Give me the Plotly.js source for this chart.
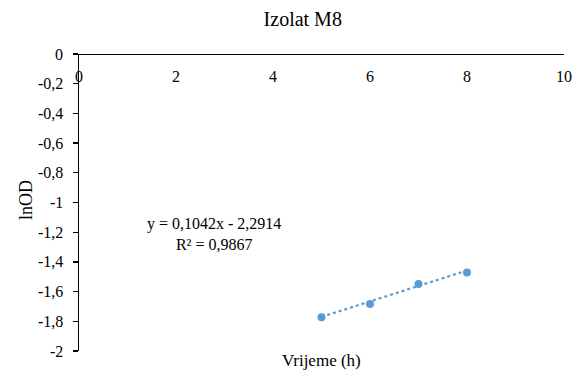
<!DOCTYPE html>
<html>
<head>
<meta charset="utf-8">
<script src="https://cdn.plot.ly/plotly-3.0.1.min.js"></script>
<style>html,body{margin:0;padding:0;background:#fff;}#chart{width:580px;height:376px;}</style>
</head>
<body>
<div id="chart"></div>
<script>
const timeH = [5, 6, 7, 8];
const lnOD = [-1.772, -1.684, -1.548, -1.471];
const trendSlope = 0.1042;
const trendIntercept = -2.2914;
const yTickVals = [0, -0.2, -0.4, -0.6, -0.8, -1, -1.2, -1.4, -1.6, -1.8, -2];
const yTickText = ["0", "-0,2", "-0,4", "-0,6", "-0,8", "-1", "-1,2", "-1,4", "-1,6", "-1,8", "-2"];
const xTickVals = [0, 2, 4, 6, 8, 10];
const xTickText = ["0", "2", "4", "6", "8", "10"];

const trendY = timeH.map(v => trendSlope * v + trendIntercept);
const serif = "Liberation Serif";
const blue = "#5B9BD5";
const tickFont = {family: serif, size: 16, color: "#000"};

const traces = [
  {x: timeH, y: trendY, type: "scatter", mode: "lines", line: {color: blue, width: 2.2, dash: "dot"}, hoverinfo: "skip", showlegend: false},
  {x: timeH, y: lnOD, type: "scatter", mode: "markers", marker: {color: blue, size: 8}, showlegend: false}
];

const yTickLabels = yTickVals.map((v, i) => ({
  xref: "paper", x: 0, yref: "y", y: v, text: yTickText[i], showarrow: false,
  xanchor: "right", yanchor: "middle", xshift: -14, font: tickFont
}));
const xTickLabels = xTickVals.map((v, i) => ({
  xref: "x", x: v, yref: "paper", y: 1, text: xTickText[i], showarrow: false,
  xanchor: "center", yanchor: "middle", yshift: -22, font: tickFont
}));

const layout = {
  width: 580, height: 376,
  margin: {l: 79, r: 16, t: 54, b: 25},
  paper_bgcolor: "#fff", plot_bgcolor: "#fff",
  separators: ", ",
  font: {family: serif, color: "#000", size: 16},
  title: {text: "Izolat M8", font: {family: serif, size: 20, color: "#000"}, x: 0.522, xanchor: "center", y: 0.95, yanchor: "middle", yref: "container"},
  showlegend: false,
  xaxis: {
    anchor: "free", position: 1, side: "bottom", range: [0, 10],
    tickvals: xTickVals, showticklabels: false, ticks: "",
    showline: true, linecolor: "#000", linewidth: 1.3, showgrid: false, zeroline: false
  },
  yaxis: {
    range: [-2, 0], tickvals: yTickVals, showticklabels: false,
    ticks: "outside", ticklen: 5, tickcolor: "#000", tickwidth: 1.3,
    showline: true, linecolor: "#000", linewidth: 1.3, showgrid: false, zeroline: false
  },
  annotations: [
    {
      x: 2.78, y: -1.212, xref: "x", yref: "y", showarrow: false,
      text: "y = 0,1042x - 2,2914<br>R² = 0,9867", align: "center",
      font: {family: serif, size: 16, color: "#000"}
    },
    {
      x: 0.5, y: 0, xref: "paper", yref: "paper", yanchor: "middle", showarrow: false,
      text: "Vrijeme (h)", font: {family: serif, size: 17, color: "#000"}
    },
    {
      x: 0, y: 0.5, xref: "paper", yref: "paper", xanchor: "center", yanchor: "middle",
      xshift: -53.5, yshift: 2, textangle: -90, showarrow: false,
      text: "lnOD", font: {family: serif, size: 18, color: "#000"}
    }
  ].concat(yTickLabels, xTickLabels)
};
layout.annotations[1].y = -(360 - 351) / (351 - 54);

Plotly.newPlot("chart", traces, layout, {staticPlot: true, displayModeBar: false});
</script>
</body>
</html>
